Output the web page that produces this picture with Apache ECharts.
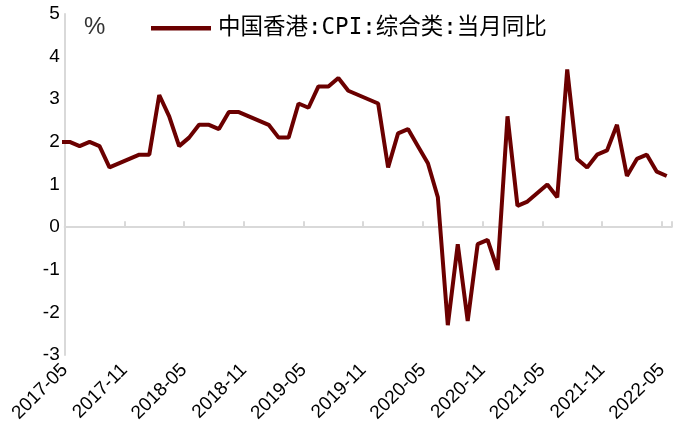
<!DOCTYPE html>
<html>
<head>
<meta charset="utf-8">
<script src="https://cdn.jsdelivr.net/npm/echarts@6/dist/echarts.min.js"></script>
<style>html,body{margin:0;padding:0;background:#fff;}#c{width:688px;height:430px;}</style>
</head>
<body>
<div id="c"></div>
<script>
// Months (2017-04 is the lead-in point, clipped at the axis start)
const months = ['2017-04','2017-05','2017-06','2017-07','2017-08','2017-09','2017-10','2017-11','2017-12',
'2018-01','2018-02','2018-03','2018-04','2018-05','2018-06','2018-07','2018-08','2018-09','2018-10','2018-11','2018-12',
'2019-01','2019-02','2019-03','2019-04','2019-05','2019-06','2019-07','2019-08','2019-09','2019-10','2019-11','2019-12',
'2020-01','2020-02','2020-03','2020-04','2020-05','2020-06','2020-07','2020-08','2020-09','2020-10','2020-11','2020-12',
'2021-01','2021-02','2021-03','2021-04','2021-05','2021-06','2021-07','2021-08','2021-09','2021-10','2021-11','2021-12',
'2022-01','2022-02','2022-03','2022-04','2022-05'];
const cpi = [2.0,2.0,1.9,2.0,1.9,1.4,1.5,1.6,1.7,
1.7,3.1,2.6,1.9,2.1,2.4,2.4,2.3,2.7,2.7,2.6,2.5,
2.4,2.1,2.1,2.9,2.8,3.3,3.3,3.5,3.2,3.1,3.0,2.9,
1.4,2.2,2.3,1.9,1.5,0.7,-2.3,-0.4,-2.2,-0.4,-0.3,-1.0,
2.6,0.5,0.6,0.8,1.0,0.7,3.7,1.6,1.4,1.7,1.8,2.4,
1.2,1.6,1.7,1.3,1.2];
const tickLabels = ['2017-05','2017-11','2018-05','2018-11','2019-05','2019-11','2020-05','2020-11','2021-05','2021-11','2022-05'];
const seriesName = '中国香港:CPI:综合类:当月同比';
const yTicks = {min: -3, max: 5, step: 1};

// month index i -> position: ticks at month starts, points mid-month
const points = cpi.map((v, i) => [i - 0.5, v]);

const chart = echarts.init(document.getElementById('c'), null, {renderer: 'canvas'});
const lineColor = '#6B0000';
const axisGray = '#D9D9D9';
chart.setOption({
  animation: false,
  backgroundColor: '#fff',
  grid: {left: 64.7, right: 16.3, top: 14, bottom: 75, containLabel: false},
  legend: {
    show: true,
    left: 146,
    top: 12,
    itemWidth: 60,
    itemHeight: 14,
    itemGap: 10,
    icon: 'path://M0,0 L60,0 L60,4.5 L0,4.5 Z',
    textStyle: {fontFamily: '"DejaVu Sans Mono", "Noto Sans CJK SC"', fontSize: 22.5, color: '#000', padding: [0,0,0,2]},
    data: [{name: seriesName, itemStyle: {color: lineColor}}]
  },
  graphic: [{
    type: 'text', left: 84, top: 15,
    style: {text: '%', fontSize: 24, fontFamily: 'Liberation Sans, Arial', fill: '#333'}
  }],
  xAxis: [{
    type: 'value', min: 0, max: 61, interval: 6,
    position: 'bottom',
    axisLine: {show: false, onZero: false},
    axisTick: {show: false},
    splitLine: {show: false},
    axisLabel: {
      rotate: 45, margin: 12, fontSize: 19, color: '#000', fontFamily: 'Liberation Sans, Arial',
      formatter: v => tickLabels[v / 6] || ''
    }
  }, {
    type: 'value', min: 0, max: 61, interval: 6,
    position: 'bottom',
    axisLine: {show: true, onZero: true, lineStyle: {color: axisGray, width: 2}},
    axisTick: {show: true, inside: true, length: 6, lineStyle: {color: axisGray, width: 2}},
    axisLabel: {show: false},
    splitLine: {show: false}
  }],
  yAxis: {
    type: 'value', min: yTicks.min, max: yTicks.max, interval: yTicks.step,
    axisLine: {show: true, lineStyle: {color: axisGray, width: 2}},
    axisTick: {show: false},
    splitLine: {show: false},
    axisLabel: {fontSize: 19, color: '#000', margin: 5, fontFamily: 'Liberation Sans, Arial'}
  },
  series: [{
    name: seriesName,
    type: 'line',
    xAxisIndex: 0,
    data: points,
    symbol: 'none',
    clip: true,
    lineStyle: {color: lineColor, width: 4},
    itemStyle: {color: lineColor}
  }]
});
</script>
</body>
</html>
